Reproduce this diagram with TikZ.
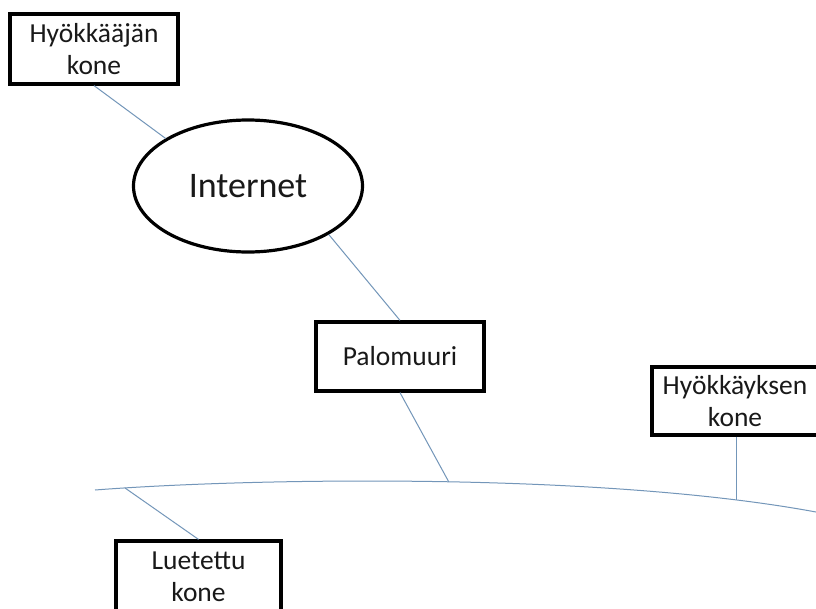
\documentclass[tikz,border=0pt]{standalone}
\usepackage{fontspec}
\setmainfont{Carlito}
\usetikzlibrary{shapes.geometric}
\definecolor{linkblue}{RGB}{115,150,185}
\definecolor{inkgrey}{RGB}{25,25,25}
\tikzset{
  boxnode/.style={draw=black, line width=3.2pt, fill=white, text=inkgrey,
    inner sep=0pt, align=center, font=\fontsize{27.5}{32}\selectfont},
  cloudnode/.style={ellipse, draw=black, line width=3.2pt, fill=white, text=inkgrey,
    inner sep=0pt, font=\fontsize{36}{40}\selectfont},
  link/.style={draw=linkblue, line width=1pt},
}
\begin{document}
\begin{tikzpicture}[x=1pt,y=-1pt]
\useasboundingbox (0,0) rectangle (816,608);
\clip (0,0) rectangle (816,608);
\fill[white] (0,0) rectangle (816,608);
% bus curve
\draw[link] (95,490) .. controls (250,478) and (600,472) .. (816,512)
  coordinate[pos=0.06] (lc)
  coordinate[pos=0.52] (pc)
  coordinate[pos=0.885] (hc);
% nodes
\node[boxnode, minimum width=168pt, minimum height=70pt] (att) at (94,49) {Hyökkääjän\\kone};
\node[cloudnode, minimum width=229pt, minimum height=132pt] (inet) at (248,186) {Internet};
\node[boxnode, minimum width=168pt, minimum height=69pt] (pal) at (400,356.5) {Palomuuri};
\node[boxnode, minimum width=166pt, minimum height=68pt] (hyk) at (735,401) {Hyökkäyksen\\kone};
\node[boxnode, minimum width=165pt, minimum height=72pt] (lue) at (198.5,577) {Luetettu\\kone};
% connectors
\draw[link] (att.south) -- (inet.150);
\draw[link] (inet.-31) -- (pal.north);
\draw[link] (pal.south) -- (pc);
\draw[link] (hc |- hyk.south) -- (hc);
\draw[link] (lc) -- (lue.north);
\end{tikzpicture}
\end{document}
